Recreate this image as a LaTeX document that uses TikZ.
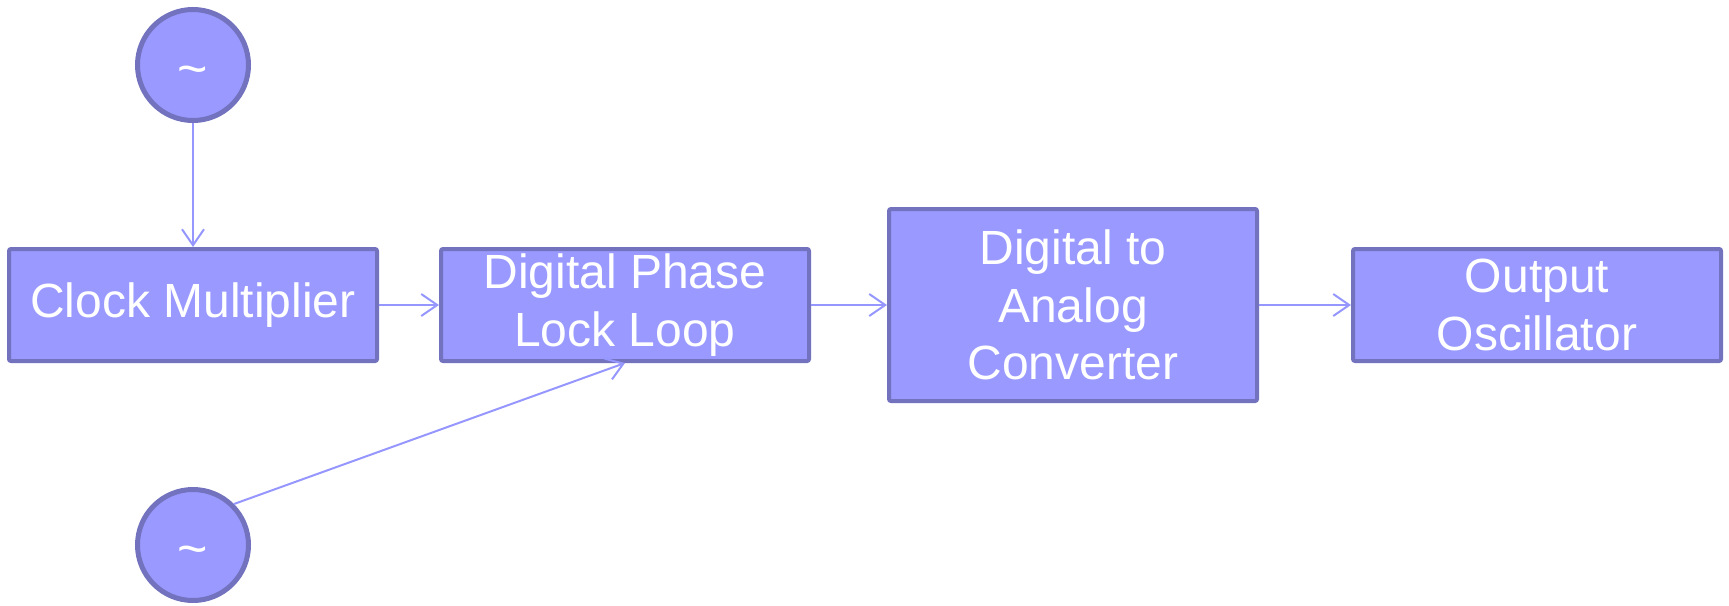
\documentclass[tikz,border=0pt]{standalone}
\usepackage{fontspec}
\setmainfont{Liberation Sans}
\usetikzlibrary{arrows.meta}
\definecolor{boxfill}{RGB}{153,153,255}
\definecolor{boxline}{RGB}{114,114,190}
\definecolor{wire}{RGB}{150,150,255}
\tikzset{
  block/.style={draw=boxline, fill=boxfill, line width=2pt, rounded corners=1pt,
    minimum width=184pt, minimum height=56pt, inner sep=0pt, text=white,
    align=center, font=\fontsize{24}{28.75}\selectfont},
  source/.style={circle, draw=boxline, fill=boxfill, line width=2.5pt,
    minimum size=55.5pt, inner sep=0pt, text=white,
    text height=21pt, text depth=0pt,
    font=\fontsize{26}{28}\selectfont},
  flow/.style={draw=wire, line width=1pt,
    -{Straight Barb[length=8pt,width=11pt,line width=1pt]}}
}
\begin{document}
\begin{tikzpicture}[x=0.5pt, y=-0.5pt]
  \useasboundingbox (0,0) rectangle (1729,605);
  % signal sources
  \node[source] (osc1) at (193,65) {\textasciitilde};
  \node[source] (osc2) at (193,545) {\textasciitilde};
  % processing chain
  \node[block] (mult) at (193,305) {Clock Multiplier};
  \node[block] (dpll) at (625,305) {Digital Phase\\Lock Loop};
  \node[block, minimum height=96pt] (dac) at (1073,305) {Digital to\\Analog\\Converter};
  \node[block] (out) at (1537,305) {Output\\Oscillator};
  % connections
  \draw[flow] (osc1) -- (mult);
  \draw[flow] (mult) -- (dpll);
  \draw[flow] (dpll) -- (dac);
  \draw[flow] (dac) -- (out);
  \draw[flow] (osc2.45) -- (dpll.south);
\end{tikzpicture}
\end{document}
